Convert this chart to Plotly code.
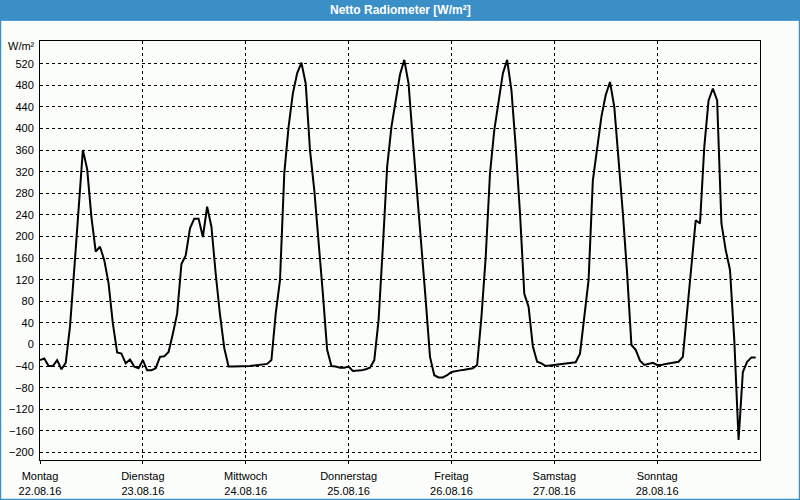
import plotly.graph_objects as go

title_text = "Netto Radiometer [W/m²]"
unit_label = "W/m²"
day_names = ["Montag", "Dienstag", "Mittwoch", "Donnerstag", "Freitag", "Samstag", "Sonntag"]
day_dates = ["22.08.16", "23.08.16", "24.08.16", "25.08.16", "26.08.16", "27.08.16", "28.08.16"]
day_hours = [0, 24, 48, 72, 96, 120, 144]

hours = list(range(168))
values = [
    -29, -26, -40, -40, -29, -46, -34, 33, 140, 250, 360, 325, 236, 172, 181, 156, 113, 39, -15, -17, -35, -28, -41, -44,
    -29, -48, -48, -44, -23, -22, -14, 20, 57, 149, 165, 215, 233, 233, 199, 255, 218, 131, 55, -7, -41, -41, -41, -41,
    -41, -40, -39, -38, -37, -36, -29, 57, 119, 317, 403, 465, 502, 522, 483, 360, 286, 193, 94, -10, -40, -41, -43, -43,
    -41, -49, -49, -48, -46, -43, -29, 45, 181, 329, 403, 452, 500, 527, 483, 378, 273, 181, 82, -23, -57, -61, -61, -57,
    -51, -49, -48, -47, -46, -44, -38, 51, 162, 317, 397, 452, 502, 527, 471, 366, 243, 94, 70, -4, -32, -35, -40, -39,
    -38, -36, -35, -34, -34, -33, -17, 51, 119, 304, 366, 422, 462, 486, 440, 348, 243, 131, -1, -10, -30, -38, -36, -34,
    -38, -38, -36, -35, -34, -32, -23, 57, 144, 230, 224, 366, 452, 474, 452, 224, 175, 138, 8, -177, -51, -32, -24, -24,
]
y_ticks = list(range(-200, 521, 40))

BLUE = "#3B8FC7"
BG = "#FBFDFB"
FONT = "Liberation Sans"

fig = go.Figure()
fig.add_trace(go.Scatter(x=hours, y=values, mode="lines",
                         line=dict(color="black", width=2), hoverinfo="skip"))

fig.update_layout(
    width=800, height=500,
    margin=dict(l=40, r=40, t=41, b=40, autoexpand=False),
    paper_bgcolor=BG, plot_bgcolor=BG,
    showlegend=False,
    font=dict(family=FONT, size=11, color="black"),
    xaxis=dict(range=[0, 168], tickvals=day_hours,
               ticktext=[f"{n}<br>{d}" for n, d in zip(day_names, day_dates)],
               showgrid=True, gridcolor="black", gridwidth=1, griddash="3px,3px",
               showline=True, linecolor="black", linewidth=1, mirror=True,
               ticks="outside", ticklen=3, tickcolor="black", zeroline=False,
               ticklabelstandoff=3, automargin=False,
               tickfont=dict(family=FONT, size=11)),
    yaxis=dict(range=[-214, 562], tickvals=y_ticks,
               showgrid=True, gridcolor="black", gridwidth=1, griddash="3px,3px",
               showline=True, linecolor="black", linewidth=1, mirror=True,
               ticks="", zeroline=False, ticklabelstandoff=3, automargin=False,
               tickfont=dict(family=FONT, size=11)),
)

# Title bar and window frame
fig.add_shape(type="rect", xref="paper", yref="paper",
              x0=-40/720, x1=760/720, y0=(460-20.5)/419, y1=460/419,
              fillcolor=BLUE, line=dict(width=0), layer="below")
fig.add_shape(type="rect", xref="paper", yref="paper",
              x0=-39.5/720, x1=759.5/720, y0=(460-499.5)/419, y1=(460-20)/419,
              fillcolor="rgba(0,0,0,0)", line=dict(color=BLUE, width=1.5), layer="below")

fig.add_annotation(text=f"<b>{title_text}</b>", xref="paper", yref="paper",
                   x=(400-40)/720, y=(460-10)/419, showarrow=False,
                   font=dict(family=FONT, size=12, color="white"),
                   xanchor="center", yanchor="middle")
fig.add_annotation(text=unit_label, xref="paper", yref="paper",
                   x=(37-40)/720, y=(460-46)/419, showarrow=False,
                   font=dict(family=FONT, size=11, color="black"),
                   xanchor="right", yanchor="middle")

fig.write_html("out.html")
